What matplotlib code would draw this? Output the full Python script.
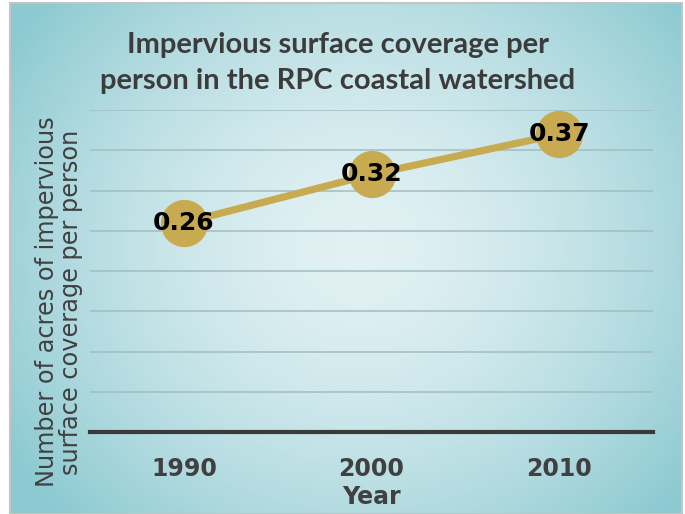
import matplotlib.pyplot as plt
import numpy as np

# Chart data
years = ["1990", "2000", "2010"]
acres_per_person = [0.26, 0.32, 0.37]
y_grid = [0.05, 0.10, 0.15, 0.20, 0.25, 0.30, 0.35, 0.40]

title = "Impervious surface coverage per\nperson in the RPC coastal watershed"
ylabel = "Number of acres of impervious\nsurface coverage per person"
xlabel = "Year"

W, H = 685, 514
fig = plt.figure(figsize=(W / 100, H / 100), dpi=100)
fig.patch.set_facecolor("white")

# Panel with radial gradient background
px0, px1, py0, py1 = 10, 682, 0, 511
bg = fig.add_axes([px0 / W, py0 / H, (px1 - px0) / W, (py1 - py0) / H])
gx, gy = np.meshgrid(np.linspace(0, 1, 300), np.linspace(0, 1, 300))
r = np.sqrt(((gx - 0.52) / 0.62) ** 2 + ((gy - 0.52) / 0.75) ** 2)
r = np.clip(r, 0, 1)
inner = np.array([0.886, 0.945, 0.953])
outer = np.array([0.55, 0.79, 0.82])
img = inner[None, None, :] * (1 - r[..., None] ** 1.6) + outer[None, None, :] * (r[..., None] ** 1.6)
bg.imshow(img, extent=[0, 1, 0, 1], aspect="auto", origin="lower")
bg.set_xticks([])
bg.set_yticks([])
for s in bg.spines.values():
    s.set_color("#c4c4c4")
    s.set_linewidth(1.5)

# Main plot area
ax = fig.add_axes([90 / W, (H - 432) / H, (653 - 90) / W, (432 - 110) / H])
ax.patch.set_alpha(0)
x = np.arange(len(years))

for g in y_grid:
    ax.axhline(g, color="#9fbec2", lw=1.1, zorder=1)
ax.plot(x, acres_per_person, color="#c8ab50", lw=5.2, marker="o",
        markersize=33, markerfacecolor="#c8ab50", markeredgecolor="#c8ab50", zorder=3)
for xi, v in zip(x, acres_per_person):
    ax.text(xi, v, f"{v:.2f}", ha="center", va="center", fontsize=18,
            fontweight="bold", color="black", zorder=4)

ax.set_xlim(-0.5, len(years) - 0.5)
ax.set_ylim(0, 0.40)
ax.set_xticks(x)
ax.set_xticklabels(years, fontsize=17, fontweight="bold", color="#404040")
ax.tick_params(axis="x", length=0, pad=18)
ax.set_yticks([])
for side in ["top", "right", "left"]:
    ax.spines[side].set_visible(False)
ax.spines["bottom"].set_color("#3a3a3a")
ax.spines["bottom"].set_linewidth(3)

fig.text(372 / W, 1 - 497 / H, xlabel, ha="center", va="center",
         fontsize=17, fontweight="bold", color="#404040")
fig.text(59 / W, 1 - 302 / H, ylabel, ha="center", va="center", rotation=90,
         fontsize=17.3, color="#404040", linespacing=0.95)
fig.text(338 / W, 1 - 63 / H, title, ha="center", va="center",
         fontsize=21, fontweight="bold", color="#3c3c3c", family="Lato",
         linespacing=1.45)

fig.savefig("out.png", dpi=100)
